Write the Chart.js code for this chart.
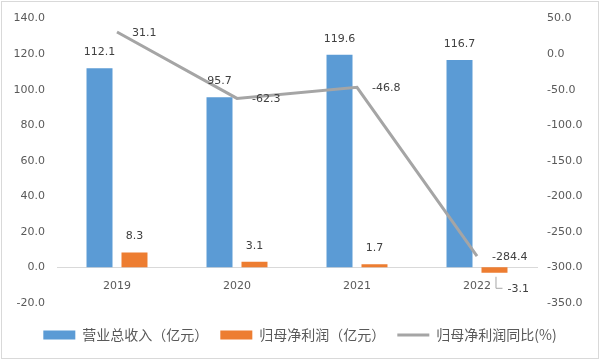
<!DOCTYPE html>
<html><head><meta charset="utf-8">
<script src="https://cdn.jsdelivr.net/npm/chart.js@4"></script>
<style>html,body{margin:0;padding:0;background:#fff}#wrap{width:600px;height:360px;position:relative}</style>
</head><body><div id="wrap"><canvas id="c" width="600" height="360"></canvas></div>
<script>
const categories = ['2019', '2020', '2021', '2022'];
const revenue = [112.1, 95.7, 119.6, 116.7];
const netProfit = [8.3, 3.1, 1.7, -3.1];
const profitYoY = [31.1, -62.3, -46.8, -284.4];
const seriesNames = ['营业总收入（亿元）', '归母净利润（亿元）', '归母净利润同比(%)'];
const leftTicks = [-20, 0, 20, 40, 60, 80, 100, 120, 140];
const rightTicks = [-350, -300, -250, -200, -150, -100, -50, 0, 50];

const NUM_FONT = '11px "DejaVu Sans"';
const LABEL_COLOR = '#404040';

const borderPlugin = {
  id: 'frame',
  beforeDraw(chart) {
    const ctx = chart.ctx;
    ctx.save();
    ctx.fillStyle = '#fff';
    ctx.fillRect(0, 0, chart.width, chart.height);
    ctx.strokeStyle = '#D9D9D9';
    ctx.lineWidth = 1;
    ctx.strokeRect(1.5, 1.5, chart.width - 3, chart.height - 3);
    ctx.restore();
  }
};

const labelPlugin = {
  id: 'vlabels',
  afterDatasetsDraw(chart) {
    const ctx = chart.ctx;
    ctx.save();
    ctx.font = NUM_FONT;
    ctx.fillStyle = LABEL_COLOR;
    chart.data.datasets.forEach((ds, di) => {
      const meta = chart.getDatasetMeta(di);
      meta.data.forEach((el, i) => {
        const v = ds.data[i];
        const txt = v.toFixed(1);
        if (ds.type === 'line') {
          ctx.textAlign = 'left';
          ctx.textBaseline = 'middle';
          ctx.fillText(txt, el.x + 15, el.y + 1);
        } else if (v >= 0) {
          ctx.textAlign = 'center';
          ctx.textBaseline = 'middle';
          ctx.fillText(txt, el.x, el.y - 16);
        } else {
          ctx.strokeStyle = '#A6A6A6';
          ctx.lineWidth = 1;
          ctx.beginPath();
          ctx.moveTo(el.x + 1.5, el.y + 4);
          ctx.lineTo(el.x + 1.5, el.y + 15.5);
          ctx.lineTo(el.x + 8, el.y + 15.5);
          ctx.stroke();
          ctx.textAlign = 'left';
          ctx.textBaseline = 'middle';
          ctx.fillText(txt, el.x + 13, el.y + 16);
        }
      });
    });
    ctx.restore();
  }
};

new Chart(document.getElementById('c'), {
  data: {
    labels: categories,
    datasets: [
      { type: 'bar', label: seriesNames[0], data: revenue, backgroundColor: '#5B9BD5', yAxisID: 'y', order: 2,
        barPercentage: 0.743, categoryPercentage: 0.583 },
      { type: 'bar', label: seriesNames[1], data: netProfit, backgroundColor: '#ED7D31', yAxisID: 'y', order: 2,
        barPercentage: 0.743, categoryPercentage: 0.583 },
      { type: 'line', label: seriesNames[2], data: profitYoY, borderColor: '#A5A5A5', backgroundColor: '#A5A5A5',
        borderWidth: 3, pointRadius: 0, tension: 0, yAxisID: 'y1', order: 1 }
    ]
  },
  options: {
    responsive: false,
    animation: false,
    layout: { padding: { top: 14, left: 0, right: 0, bottom: 8 } },
    plugins: {
      tooltip: { enabled: false },
      legend: {
        position: 'bottom',
        title: { display: true, text: '', font: { size: 1 }, padding: { top: 12, bottom: 0 } },
        labels: {
          font: { family: '"Noto Sans CJK SC"', size: 14 },
          color: '#595959',
          usePointStyle: true,
          pointStyleWidth: 32,
          boxHeight: 9,
          padding: 12,
          generateLabels(chart) {
            return chart.data.datasets.map((ds, i) => ({
              text: ds.label,
              fillStyle: ds.type === 'line' ? ds.borderColor : ds.backgroundColor,
              strokeStyle: ds.type === 'line' ? ds.borderColor : ds.backgroundColor,
              lineWidth: ds.type === 'line' ? 3 : 0,
              pointStyle: ds.type === 'line' ? 'line' : 'rect',
              fontColor: '#595959',
              hidden: false,
              datasetIndex: i
            }));
          }
        }
      }
    },
    scales: {
      x: {
        type: 'category',
        position: { y: 0 },
        offset: true,
        grid: { display: false, drawTicks: false },
        border: { display: true, color: '#D9D9D9', width: 1 },
        ticks: { font: { family: '"DejaVu Sans"', size: 11 }, color: '#595959', padding: 12, maxRotation: 0 }
      },
      y: {
        position: 'left',
        min: -20, max: 140,
        afterBuildTicks(s) { s.ticks = leftTicks.map(v => ({ value: v })); },
        grid: { display: false, drawTicks: false },
        border: { display: false },
        ticks: { font: { family: '"DejaVu Sans"', size: 11 }, color: '#595959', padding: 12,
          callback: v => Number(v).toFixed(1) },
        afterFit(s) { s.width = 57; }
      },
      y1: {
        position: 'right',
        min: -350, max: 50,
        afterBuildTicks(s) { s.ticks = rightTicks.map(v => ({ value: v })); },
        grid: { display: false, drawTicks: false },
        border: { display: false },
        ticks: { font: { family: '"DejaVu Sans"', size: 11 }, color: '#595959', padding: 10,
          callback: v => Number(v).toFixed(1) },
        afterFit(s) { s.width = 63; }
      }
    }
  },
  plugins: [borderPlugin, labelPlugin]
});
</script>
</body></html>
